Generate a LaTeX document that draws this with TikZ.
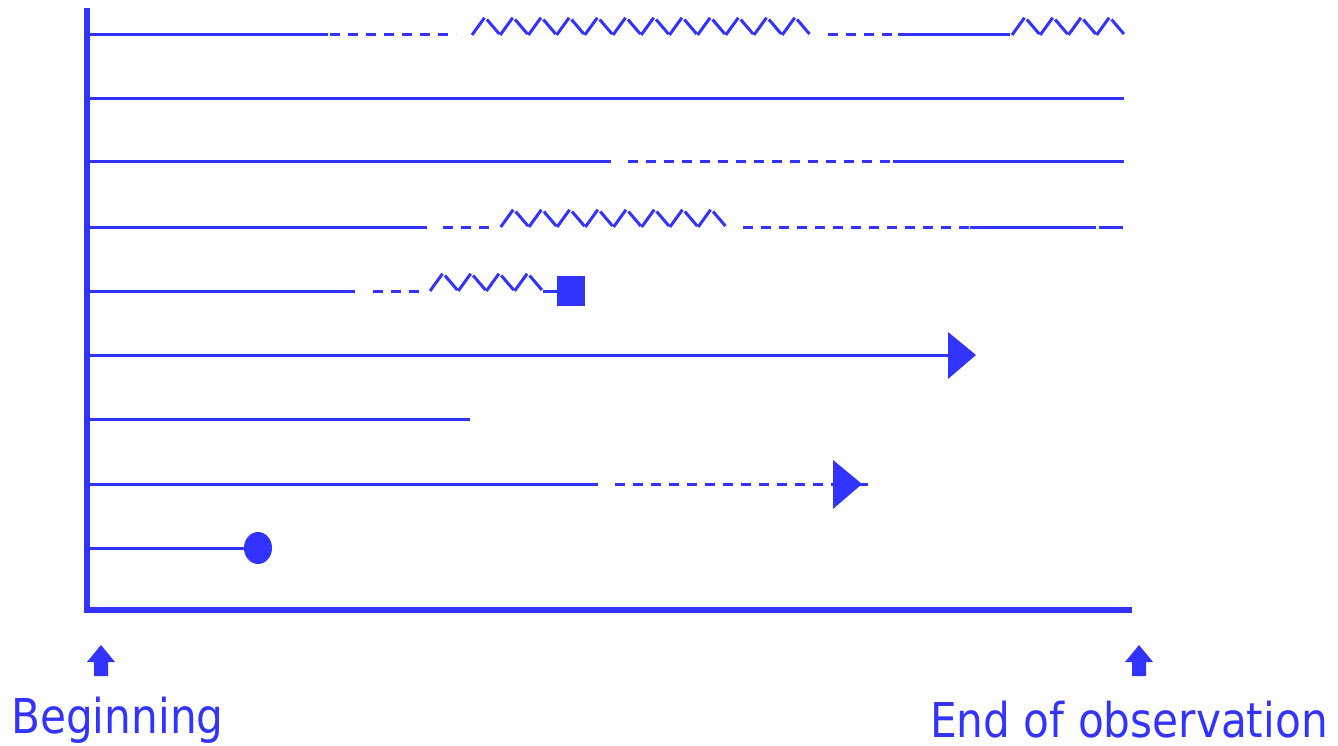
\documentclass[tikz,border=0pt]{standalone}
\usepackage{fontspec}
\setmainfont{DejaVu Sans}
\definecolor{bl}{RGB}{51,51,255}
\tikzset{
  row/.style={line width=3pt, draw=bl},
  dsh/.style={row, dash pattern=on 10pt off 8pt},
  axisline/.style={line width=5.5pt, draw=bl},
  mark fill/.style={fill=bl, draw=none},
  lbl/.style={anchor=base west, inner sep=0pt, text=bl, font=\fontsize{48}{48}\selectfont},
}
\newcommand\zigrow[3]{%
  \foreach \k in {1,...,#3}{%
    \draw[row] ({#1+(\k-1)*28.2},#2) -- ++(12.5,-17.3) ++(2.4,1.8) -- ++(12.4,14.5);
  }}
\begin{document}
\begin{tikzpicture}[x=1pt,y=-1pt]
\useasboundingbox (0,0) rectangle (1338,746);
% axes
\draw[axisline] (87,8) -- (87,610) -- (1132,610);
% row 1
\draw[row] (87,35) -- (328,35);
\draw[dsh] (330,35) -- (456,35);
\zigrow{472}{35}{12}
\draw[dsh] (828,35) -- (898,35);
\draw[row] (898,35) -- (1010,35);
\zigrow{1012}{35}{4}
% row 2
\draw[row] (87,99) -- (1124,99);
% row 3
\draw[row] (87,162) -- (611,162);
\draw[dsh] (628,162) -- (898,162);
\draw[row] (893,162) -- (1124,162);
% row 4
\draw[row] (87,227) -- (427,227);
\draw[dsh] (443,227) -- (495,227);
\zigrow{500.7}{227}{8}
\draw[dsh] (743,227) -- (985,227);
\draw[row] (970,227) -- (1096,227);
\draw[row] (1099,227) -- (1123,227);
% row 5
\draw[row] (87,291) -- (355,291);
\draw[dsh] (373,291) -- (422,291);
\zigrow{430}{291}{4}
\draw[row] (543,291) -- (557,291);
\fill[mark fill] (557,276) rectangle (585,306);
% row 6
\draw[row] (87,355) -- (950,355);
\fill[mark fill] (948,332) -- (976,355) -- (948,379) -- cycle;
% row 7
\draw[row] (87,419) -- (470,419);
% row 8
\draw[row] (87,484) -- (598,484);
\draw[dsh] (615,484) -- (835,484);
\fill[mark fill] (833,460) -- (862,484) -- (833,509) -- cycle;
\draw[row] (860,484) -- (868,484);
% row 9
\draw[row] (87,548) -- (245,548);
\fill[mark fill] (258,548) ellipse [x radius=14pt, y radius=16pt];
% block arrows
\fill[mark fill] (101,645) -- (115,662) -- (108,662) -- (108,676) -- (94,676) -- (94,662) -- (87,662) -- cycle;
\fill[mark fill] (1139,645) -- (1153,662) -- (1146,662) -- (1146,676) -- (1132,676) -- (1132,662) -- (1125,662) -- cycle;
% labels
\node[lbl] (beg) at (11,733) {\scalebox{0.88}[1]{Beginning}};
\node[lbl] (end) at (930,737) {\scalebox{0.88}[1]{End of observation}};
\end{tikzpicture}
\end{document}
